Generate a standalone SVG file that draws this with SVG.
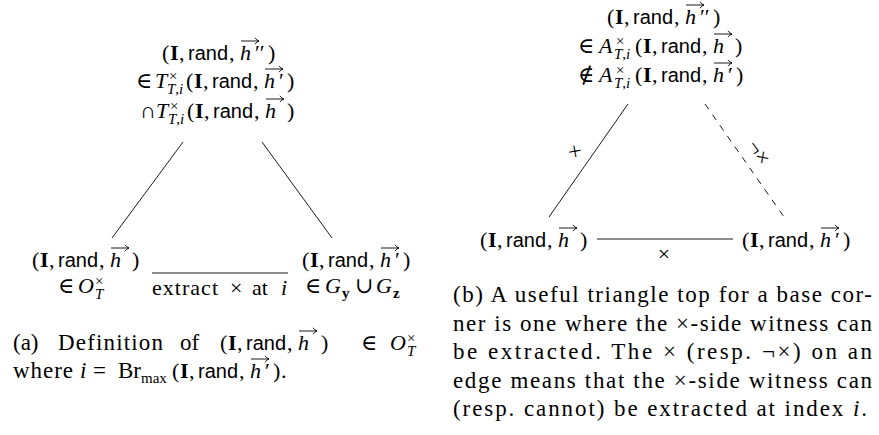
<svg xmlns="http://www.w3.org/2000/svg" xmlns:xlink="http://www.w3.org/1999/xlink" width="879" height="435" viewBox="0 0 879 435">
<defs>
<style>
.t{font-family:"Liberation Serif","DejaVu Serif",serif;font-size:22px;fill:#000}
.c{font-size:23px}
.b{font-weight:bold}
.i{font-style:italic}
.s{font-family:"Liberation Sans","DejaVu Sans",sans-serif;font-size:20px}
.sc{font-size:15px}
.ln{stroke:#000;stroke-width:0.9;fill:none}
.ds{stroke-dasharray:6.5 6.5}
.ar{stroke:#000;stroke-width:0.9;fill:none}
</style>
<path id="v" class="ar" d="M0,0H18M14,-3.2Q15.5,-0.8 18,0Q15.5,0.8 14,3.2"/>
</defs>
<rect width="879" height="435" fill="#fff"/>

<!-- Panel (a) -->
<g id="a-top">
<text class="t" y="60"><tspan x="162">(</tspan><tspan x="170" class="b">I</tspan><tspan x="179">,</tspan><tspan x="188" class="s">rand</tspan><tspan x="229">,</tspan><tspan x="240" class="i">h</tspan><tspan x="255">′′</tspan><tspan x="268">)</tspan></text>
<use href="#v" x="241" y="41"/>
<text class="t" y="88"><tspan x="136">∈</tspan><tspan x="155" class="i">T</tspan></text>
<text class="t sc" x="169" y="81">×</text>
<text class="t sc" x="167" y="94"><tspan class="i">T</tspan>,<tspan class="i">i</tspan></text>
<text class="t" y="88"><tspan x="186">(</tspan><tspan x="194" class="b">I</tspan><tspan x="203">,</tspan><tspan x="212" class="s">rand</tspan><tspan x="253">,</tspan><tspan x="264" class="i">h</tspan><tspan x="279">′</tspan><tspan x="287">)</tspan></text>
<use href="#v" x="265" y="69"/>
<text class="t" y="118"><tspan x="140">∩</tspan><tspan x="156" class="i">T</tspan></text>
<text class="t sc" x="170" y="111">×</text>
<text class="t sc" x="168" y="124"><tspan class="i">T</tspan>,<tspan class="i">i</tspan></text>
<text class="t" y="118"><tspan x="187">(</tspan><tspan x="195" class="b">I</tspan><tspan x="204">,</tspan><tspan x="213" class="s">rand</tspan><tspan x="254">,</tspan><tspan x="265" class="i">h</tspan><tspan x="287">)</tspan></text>
<use href="#v" x="266" y="99"/>
</g>

<g id="a-left">
<text class="t" y="267"><tspan x="32">(</tspan><tspan x="40" class="b">I</tspan><tspan x="49">,</tspan><tspan x="58" class="s">rand</tspan><tspan x="99">,</tspan><tspan x="110" class="i">h</tspan><tspan x="132">)</tspan></text>
<use href="#v" x="111" y="248"/>
<text class="t" y="293"><tspan x="58">∈</tspan><tspan x="78" class="i">O</tspan></text>
<text class="t sc" x="95" y="286">×</text>
<text class="t sc i" x="95" y="299">T</text>
</g>

<g id="a-right">
<text class="t" y="267"><tspan x="302">(</tspan><tspan x="310" class="b">I</tspan><tspan x="319">,</tspan><tspan x="328" class="s">rand</tspan><tspan x="369">,</tspan><tspan x="380" class="i">h</tspan><tspan x="395">′</tspan><tspan x="403">)</tspan></text>
<use href="#v" x="381" y="248"/>
<text class="t" y="293"><tspan x="305">∈</tspan><tspan x="325" class="i">G</tspan><tspan x="355">∪</tspan><tspan x="376" class="i">G</tspan></text>
<text class="t sc b" x="342" y="298">y</text>
<text class="t sc b" x="393" y="298">z</text>
</g>

<g id="a-connectors">
<line class="ln" x1="183" y1="142" x2="112" y2="238"/>
<line class="ln" x1="262" y1="142" x2="332" y2="238"/>
<line class="ln" x1="152" y1="273" x2="288" y2="273"/>
<text class="t" y="295"><tspan x="152" textLength="66">extract</tspan><tspan x="230">×</tspan><tspan x="252">at</tspan><tspan x="281" class="i">i</tspan></text>
</g>

<g id="caption-a">
<text class="t c" y="350"><tspan x="13">(a)</tspan><tspan x="58" textLength="105">Definition</tspan><tspan x="180">of</tspan></text>
<text class="t" y="350"><tspan x="220">(</tspan><tspan x="228" class="b">I</tspan><tspan x="237">,</tspan><tspan x="246" class="s">rand</tspan><tspan x="287">,</tspan><tspan x="298" class="i">h</tspan><tspan x="321">)</tspan><tspan x="361">∈</tspan><tspan x="390" class="i">O</tspan></text>
<use href="#v" x="299" y="331"/>
<text class="t sc" x="407" y="343">×</text>
<text class="t sc i" x="407" y="356">T</text>
<text class="t c" y="378"><tspan x="13" textLength="60">where</tspan><tspan x="80" class="i">i</tspan><tspan x="93">=</tspan><tspan x="118">Br</tspan></text>
<text class="t sc" x="141" y="383">max</text>
<text class="t" y="378"><tspan x="172">(</tspan><tspan x="180" class="b">I</tspan><tspan x="189">,</tspan><tspan x="198" class="s">rand</tspan><tspan x="239">,</tspan><tspan x="250" class="i">h</tspan><tspan x="265">′</tspan><tspan x="273">)</tspan><tspan x="281">.</tspan></text>
<use href="#v" x="251" y="359"/>
</g>

<!-- Panel (b) -->
<g id="b-top">
<text class="t" y="24"><tspan x="607">(</tspan><tspan x="615" class="b">I</tspan><tspan x="624">,</tspan><tspan x="633" class="s">rand</tspan><tspan x="674">,</tspan><tspan x="685" class="i">h</tspan><tspan x="700">′′</tspan><tspan x="713">)</tspan></text>
<use href="#v" x="686" y="5"/>
<text class="t" y="53"><tspan x="578">∈</tspan><tspan x="599" class="i">A</tspan></text>
<text class="t sc" x="616" y="46">×</text>
<text class="t sc" x="614" y="59"><tspan class="i">T</tspan>,<tspan class="i">i</tspan></text>
<text class="t" y="53"><tspan x="635">(</tspan><tspan x="643" class="b">I</tspan><tspan x="652">,</tspan><tspan x="661" class="s">rand</tspan><tspan x="702">,</tspan><tspan x="713" class="i">h</tspan><tspan x="735">)</tspan></text>
<use href="#v" x="714" y="34"/>
<text class="t" y="82"><tspan x="578">∉</tspan><tspan x="599" class="i">A</tspan></text>
<text class="t sc" x="616" y="75">×</text>
<text class="t sc" x="614" y="88"><tspan class="i">T</tspan>,<tspan class="i">i</tspan></text>
<text class="t" y="82"><tspan x="635">(</tspan><tspan x="643" class="b">I</tspan><tspan x="652">,</tspan><tspan x="661" class="s">rand</tspan><tspan x="702">,</tspan><tspan x="713" class="i">h</tspan><tspan x="728">′</tspan><tspan x="736">)</tspan></text>
<use href="#v" x="714" y="63"/>
</g>

<g id="b-left">
<text class="t" y="247"><tspan x="480">(</tspan><tspan x="488" class="b">I</tspan><tspan x="497">,</tspan><tspan x="506" class="s">rand</tspan><tspan x="547">,</tspan><tspan x="558" class="i">h</tspan><tspan x="580">)</tspan></text>
<use href="#v" x="559" y="228"/>
</g>

<g id="b-right">
<text class="t" y="247"><tspan x="742">(</tspan><tspan x="750" class="b">I</tspan><tspan x="759">,</tspan><tspan x="768" class="s">rand</tspan><tspan x="809">,</tspan><tspan x="820" class="i">h</tspan><tspan x="835">′</tspan><tspan x="843">)</tspan></text>
<use href="#v" x="821" y="228"/>
</g>

<g id="b-connectors">
<line class="ln" x1="628" y1="104" x2="549" y2="217"/>
<line class="ln ds" x1="705" y1="104" x2="784" y2="217"/>
<line class="ln" x1="597" y1="239" x2="733" y2="239"/>
<text class="t" text-anchor="middle" transform="translate(576,152) rotate(-55)" y="6">×</text>
<text class="t" text-anchor="middle" transform="translate(758,153) rotate(55)" y="6">¬×</text>
<text class="t" text-anchor="middle" x="664" y="261">×</text>
</g>

<g id="caption-b">
<text class="t c" x="453" y="302" textLength="419" lengthAdjust="spacing">(b) A useful triangle top for a base cor-</text>
<text class="t c" x="453" y="330.5" textLength="419" lengthAdjust="spacing">ner is one where the ×-side witness can</text>
<text class="t c" x="453" y="359" textLength="419" lengthAdjust="spacing">be extracted. The × (resp. ¬×) on an</text>
<text class="t c" x="453" y="387.5" textLength="419" lengthAdjust="spacing">edge means that the ×-side witness can</text>
<text class="t c" x="453" y="416" textLength="414" lengthAdjust="spacing">(resp. cannot) be extracted at index <tspan class="i">i</tspan>.</text>
</g>
</svg>
